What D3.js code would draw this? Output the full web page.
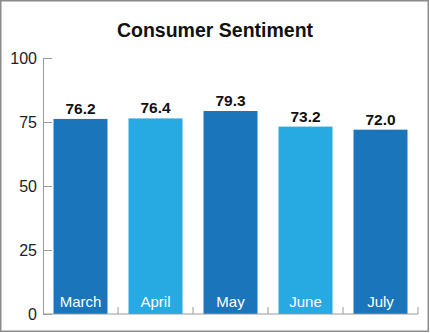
<!DOCTYPE html>
<html>
<head>
<meta charset="utf-8">
<script src="https://cdn.jsdelivr.net/npm/d3@7"></script>
<style>
  html, body { margin: 0; padding: 0; background: #fff; }
  svg { display: block; }
  text { font-family: "Liberation Sans", Arial, Helvetica, sans-serif; }
</style>
</head>
<body>
<svg id="chart" width="430" height="333"></svg>
<script>
const months = ["March", "April", "May", "June", "July"];
const values = [76.2, 76.4, 79.3, 73.2, 72.0];
const colors = ["#1b75bb", "#27a9e1", "#1b75bb", "#27a9e1", "#1b75bb"];
const yTicks = [0, 25, 50, 75, 100];
const title = "Consumer Sentiment";

const svg = d3.select("#chart");
const W = 430, H = 333;
const m = { left: 43, right: 12, top: 58, bottom: 19 };

svg.append("rect")
  .attr("x", 0.75).attr("y", 0.75)
  .attr("width", W - 2.5).attr("height", H - 2.5)
  .attr("fill", "#fff").attr("stroke", "#8c8c8c").attr("stroke-width", 1.5);

svg.append("text")
  .attr("x", 215).attr("y", 37)
  .attr("text-anchor", "middle")
  .attr("font-size", 19.5).attr("font-weight", "bold").attr("fill", "#111")
  .text(title);

const x = d3.scaleBand().domain(months).range([m.left, W - m.right]).paddingInner(0.28).paddingOuter(0.14);
const y = d3.scaleLinear().domain([0, 100]).range([H - m.bottom, m.top]);

const g = svg.append("g");

g.selectAll("rect.bar").data(months).join("rect")
  .attr("class", "bar")
  .attr("x", d => x(d))
  .attr("width", x.bandwidth())
  .attr("y", (d, i) => y(values[i]))
  .attr("height", (d, i) => y(0) - y(values[i]))
  .attr("fill", (d, i) => colors[i]);

// Y axis
const yAxis = d3.axisLeft(y).tickValues(yTicks).tickSize(-9).tickPadding(6).tickSizeOuter(0);
const ya = svg.append("g").attr("transform", `translate(${m.left},0)`).call(yAxis);
ya.select(".domain").attr("stroke", "#9a9a9a");
ya.selectAll(".tick line").attr("stroke", "#9a9a9a");
ya.selectAll(".tick text").attr("font-size", 16).attr("fill", "#222")
  .attr("font-family", "'Liberation Sans', Arial, sans-serif");

// X axis with ticks at band boundaries
const step = x.step();
const boundaries = months.map(d => x(d) + x.bandwidth() + (step - x.bandwidth()) / 2);
const xa = svg.append("g");
xa.append("line")
  .attr("x1", m.left).attr("x2", W - m.right)
  .attr("y1", y(0)).attr("y2", y(0))
  .attr("stroke", "#9a9a9a");
xa.selectAll("line.tk").data(boundaries).join("line")
  .attr("class", "tk")
  .attr("x1", d => d).attr("x2", d => d)
  .attr("y1", y(0)).attr("y2", y(0) - 7)
  .attr("stroke", "#9a9a9a");

// value labels
g.selectAll("text.val").data(months).join("text")
  .attr("class", "val")
  .attr("x", d => x(d) + x.bandwidth() / 2)
  .attr("y", (d, i) => y(values[i]) - 5)
  .attr("text-anchor", "middle")
  .attr("font-size", 15.5).attr("font-weight", "bold").attr("fill", "#111")
  .text((d, i) => values[i].toFixed(1));

// month labels inside bars
g.selectAll("text.mon").data(months).join("text")
  .attr("class", "mon")
  .attr("x", d => x(d) + x.bandwidth() / 2)
  .attr("y", y(0) - 7)
  .attr("text-anchor", "middle")
  .attr("font-size", 15).attr("fill", "#fff")
  .text(d => d);
</script>
</body>
</html>
